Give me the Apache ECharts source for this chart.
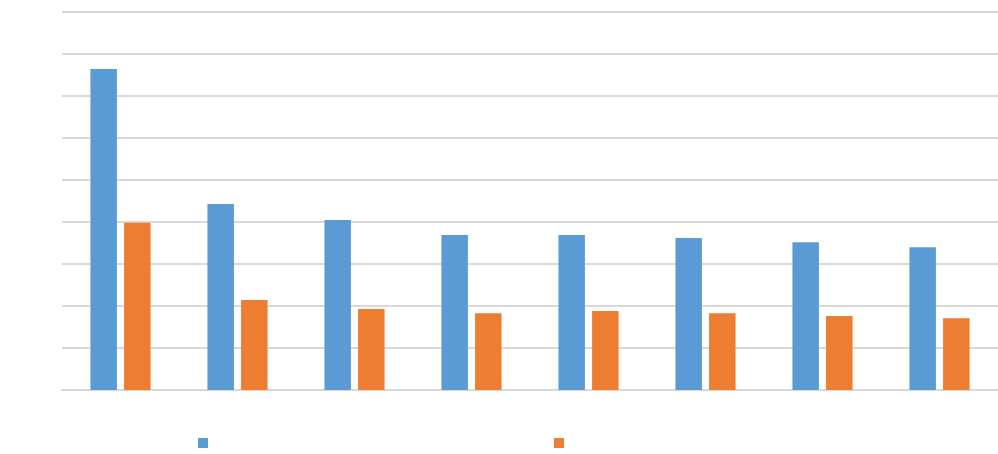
<!DOCTYPE html>
<html>
<head>
<meta charset="utf-8">
<script src="https://cdn.jsdelivr.net/npm/echarts@6/dist/echarts.min.js"></script>
<style>html,body{margin:0;padding:0;background:#fff;}#c{width:998px;height:454px;}</style>
</head>
<body>
<div id="c"></div>
<script>
const categories = ['1', '2', '3', '4', '5', '6', '7', '8'];
const seriesNames = ['Series 1', 'Series 2'];
const seriesA = [76.4, 44.3, 40.5, 36.9, 36.9, 36.2, 35.2, 34.0];
const seriesB = [39.8, 21.4, 19.3, 18.3, 18.8, 18.3, 17.6, 17.1];
const yMin = 0, yMax = 90, yInterval = 10;

const chart = echarts.init(document.getElementById('c'));
const legendBase = {
  top: 432, itemWidth: 10, itemHeight: 10, icon: 'rect',
  textStyle: { color: 'rgba(0,0,0,0)', fontSize: 12 }
};
chart.setOption({
  animation: false,
  backgroundColor: '#ffffff',
  grid: { left: 62, width: 940, top: 12, height: 378, containLabel: false },
  legend: [
    Object.assign({ left: 193, data: [seriesNames[0]] }, legendBase),
    Object.assign({ left: 549, data: [seriesNames[1]] }, legendBase)
  ],
  xAxis: {
    type: 'category', data: categories,
    axisLine: { lineStyle: { color: '#d9d9d9', width: 2 } },
    axisTick: { show: false }, axisLabel: { show: false }
  },
  yAxis: {
    type: 'value', min: yMin, max: yMax, interval: yInterval,
    axisLine: { show: false }, axisTick: { show: false }, axisLabel: { show: false },
    splitLine: { lineStyle: { color: '#d9d9d9', width: 2 } }
  },
  series: [
    { name: seriesNames[0], type: 'bar', data: seriesA, barWidth: 26.5, barGap: '27%',
      itemStyle: { color: '#5b9bd5' } },
    { name: seriesNames[1], type: 'bar', data: seriesB, barWidth: 26.5, barGap: '27%',
      itemStyle: { color: '#ed7d31' } }
  ]
});
</script>
</body>
</html>
